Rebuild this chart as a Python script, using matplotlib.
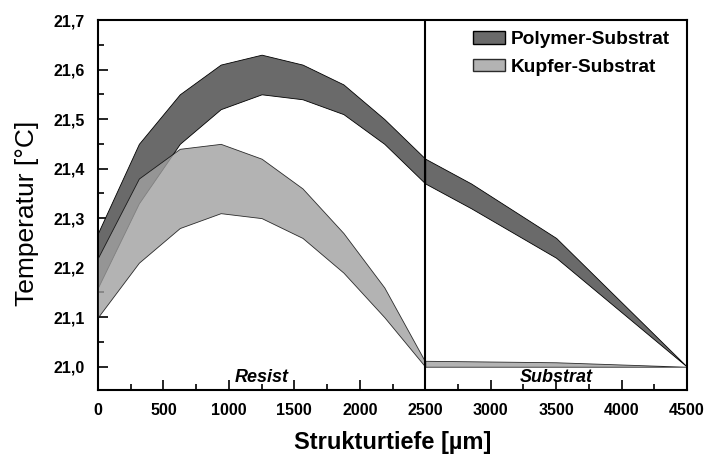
import matplotlib
matplotlib.use('Agg')
import matplotlib.pyplot as plt
from matplotlib.patches import Patch
from matplotlib.ticker import FuncFormatter, MultipleLocator

plt.rcParams['font.family'] = ['Liberation Sans', 'DejaVu Sans']

# Temperature bands (upper / lower bound) along the structure depth
depth_resist = [0, 312.5, 625, 937.5, 1250, 1562.5, 1875, 2187.5, 2500]
polymer_resist_hi = [21.27, 21.45, 21.55, 21.61, 21.63, 21.61, 21.57, 21.50, 21.42]
polymer_resist_lo = [21.16, 21.33, 21.45, 21.52, 21.55, 21.54, 21.51, 21.45, 21.37]
kupfer_resist_hi = [21.22, 21.38, 21.44, 21.45, 21.42, 21.36, 21.27, 21.16, 21.01]
kupfer_resist_lo = [21.10, 21.21, 21.28, 21.31, 21.30, 21.26, 21.19, 21.10, 21.00]

depth_substrat = [2500, 2850, 3500, 4500]
polymer_substrat_hi = [21.42, 21.37, 21.26, 21.00]
polymer_substrat_lo = [21.37, 21.32, 21.22, 21.00]
kupfer_substrat_hi = [21.012, 21.011, 21.009, 21.00]
kupfer_substrat_lo = [21.00, 21.00, 21.00, 21.00]

labels = ['Polymer-Substrat', 'Kupfer-Substrat']
polymer_color = '#6a6a6a'
kupfer_color = '#a0a0a0'
kupfer_alpha = 0.8

fig = plt.figure(figsize=(7.09, 4.59), dpi=100)
ax = fig.add_axes([0.1382, 0.1503, 0.8308, 0.8061])

for x, lo, hi in [(depth_resist, polymer_resist_lo, polymer_resist_hi),
                  (depth_substrat, polymer_substrat_lo, polymer_substrat_hi)]:
    ax.fill_between(x, lo, hi, facecolor=polymer_color, edgecolor='black',
                    linewidth=0.6, zorder=2)
for x, lo, hi in [(depth_resist, kupfer_resist_lo, kupfer_resist_hi),
                  (depth_substrat, kupfer_substrat_lo, kupfer_substrat_hi)]:
    ax.fill_between(x, lo, hi, facecolor=kupfer_color, edgecolor='black',
                    linewidth=0.6, alpha=kupfer_alpha, zorder=3)

# boundary between resist and substrate
ax.axvline(2500, color='black', linewidth=1.5, zorder=4)

ax.text(1250, 20.970, 'Resist', ha='center', va='baseline',
        fontsize=13, fontweight='bold', fontstyle='italic')
ax.text(3500, 20.970, 'Substrat', ha='center', va='baseline',
        fontsize=13, fontweight='bold', fontstyle='italic')

ax.set_xlim(0, 4500)
ax.set_ylim(20.953, 21.7)

ax.xaxis.set_major_locator(MultipleLocator(500))
ax.xaxis.set_minor_locator(MultipleLocator(250))
ax.yaxis.set_major_locator(MultipleLocator(0.1))
ax.yaxis.set_minor_locator(MultipleLocator(0.05))
ax.yaxis.set_major_formatter(FuncFormatter(lambda v, p: f'{v:.1f}'.replace('.', ',')))

ax.tick_params(which='both', direction='in', top=False, right=False,
               width=1.2, labelsize=11.5)
ax.tick_params(which='major', length=7)
ax.tick_params(which='minor', length=4)
ax.tick_params(axis='x', which='major', pad=9)
ax.tick_params(axis='y', which='major', pad=9.5)
for lbl in ax.get_xticklabels() + ax.get_yticklabels():
    lbl.set_fontweight('bold')
for s in ax.spines.values():
    s.set_linewidth(1.5)

ax.set_xlabel('Strukturtiefe [µm]', fontsize=17, fontweight='bold', va='center')
ax.set_ylabel('Temperatur [°C]', fontsize=19, va='center')
ax.xaxis.set_label_coords(0.5, -0.143)
ax.yaxis.set_label_coords(-0.1205, 0.478)

handles = [Patch(facecolor=polymer_color, edgecolor='black', linewidth=1.0),
           Patch(facecolor=kupfer_color, edgecolor='black', linewidth=1.0, alpha=kupfer_alpha)]
leg = ax.legend(handles, labels, loc='upper left', bbox_to_anchor=(0.636, 0.97),
                frameon=False, prop={'weight': 'bold', 'size': 13.8},
                handlelength=1.7, handleheight=0.64, handletextpad=0.3,
                labelspacing=0.55, borderpad=0, borderaxespad=0)

fig.savefig('out.png', dpi=100)
